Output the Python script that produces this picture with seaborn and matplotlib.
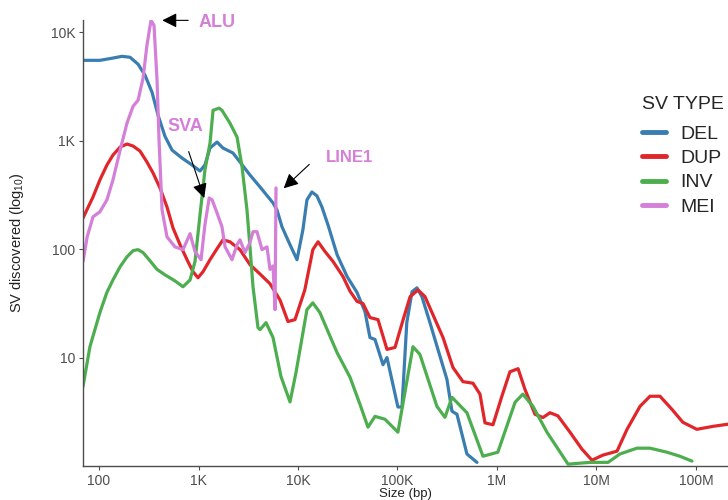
import matplotlib
matplotlib.use("Agg")
import matplotlib.pyplot as plt
import matplotlib.ticker as mticker
import numpy as np
import pandas as pd
import seaborn as sns

# ---- size distribution of discovered SVs (size in bp, count of SVs) ----
del_size = [69, 102, 135, 170, 205, 247, 290, 341, 392, 460, 542, 682, 860, 1035,
            1160, 1305, 1535, 1760, 2220, 2610, 3290, 4150, 5610, 6150, 6900, 8310,
            9770, 11200, 12300, 13800, 15500, 17400, 20000, 24700, 31100, 39100,
            47100, 52900, 59400, 71500, 78400, 101000, 111000, 124000, 140000,
            157000, 176000, 212000, 255000, 314000, 353000, 396000, 499000, 629000]
del_count = [5520, 5520, 5770, 6010, 5890, 5080, 4020, 2800, 1720, 1100, 820, 693,
             598, 526, 598, 857, 973, 857, 771, 637, 483, 375, 267, 230, 161, 110,
             80, 151, 285, 337, 310, 245, 168, 89, 56, 40, 26.6, 15.3, 14.7, 8.6,
             10, 3.5, 3.5, 21, 40.5, 44, 36.5, 21, 11.9, 6.3, 3.2, 3.0, 1.29, 1.08]

dup_size = [69, 87, 102, 120, 138, 163, 191, 220, 258, 303, 349, 410, 482, 554, 652,
            766, 880, 988, 1110, 1305, 1535, 1760, 2070, 2610, 3290, 4150, 5230,
            6590, 7930, 9330, 11700, 14100, 15900, 18700, 22500, 28300, 33300,
            39200, 45000, 52900, 63700, 78400, 94400, 114000, 134000, 161000,
            189000, 227000, 287000, 361000, 455000, 574000, 675000, 757000, 912000,
            1.12e6, 1.35e6, 1.63e6, 1.91e6, 2.41e6, 2.9e6, 3.41e6, 4.1e6, 5.42e6,
            7.15e6, 9.01e6, 1.16e7, 1.61e7, 2.03e7, 2.74e7, 3.45e7, 4.35e7, 5.74e7,
            7.39e7, 1.02e8, 1.48e8, 2.1e8, 2.6e8]
dup_count = [194, 303, 435, 597, 738, 875, 933, 894, 804, 637, 505, 367, 245, 157,
             110, 80, 62, 54.5, 62, 80, 101, 122, 117, 99, 72, 59, 48, 34, 21.5,
             22.4, 42, 99, 117, 95, 77, 56, 41, 33, 31.5, 23.4, 22.4, 11.9, 12.4,
             22.4, 36.5, 42, 36.5, 24.9, 15.3, 8.1, 6.0, 5.8, 4.6, 2.5, 2.4, 4.4,
             7.4, 7.9, 5.1, 3.0, 2.8, 3.1, 2.9, 2.05, 1.43, 1.13, 1.26, 1.37, 2.18,
             3.55, 4.4, 4.4, 3.33, 2.53, 2.18, 2.32, 2.43, 2.48]

inv_size = [69, 81, 102, 120, 138, 163, 191, 220, 247, 277, 326, 383, 460, 580, 698,
            822, 922, 1035, 1160, 1305, 1400, 1610, 1720, 2070, 2440, 2740, 3070,
            3290, 3530, 3960, 4150, 4770, 5610, 6740, 8310, 9550, 12300, 14100,
            16600, 24700, 33300, 42000, 50500, 59400, 74800, 101000, 143000,
            168000, 249000, 300000, 353000, 499000, 723000, 1.02e6, 1.52e6, 1.82e6,
            2.3e6, 3.18e6, 5.18e6, 8.6e6, 1.31e7, 1.72e7, 2.55e7, 3.45e7, 5.12e7,
            6.9e7, 9.12e7]
inv_count = [5.4, 12.6, 26, 40, 52, 69, 85, 97, 99, 93, 78, 65, 58, 51, 45, 52, 77,
             207, 537, 952, 1910, 1999, 1910, 1455, 1080, 573, 230, 105, 45, 18.9,
             18.1, 21, 15.3, 6.7, 3.9, 7.3, 27.7, 32, 26, 11.1, 6.6, 3.7, 2.28,
             2.87, 2.7, 2.05, 12.6, 10.7, 3.55, 2.81, 4.3, 3.1, 1.23, 1.34, 3.87,
             4.6, 3.55, 2.05, 1.04, 1.08, 1.08, 1.29, 1.46, 1.46, 1.34, 1.23, 1.11]

mei_size = [69, 76, 87, 102, 120, 138, 163, 191, 220, 247, 277, 303, 333, 357, 383,
            401, 430, 482, 580, 698, 822, 922, 1060, 1160, 1280, 1370, 1535, 1720,
            1850, 2170, 2440, 2610, 2930, 3290, 3530, 3870, 4350, 4880, 5230, 5610,
            5880, 6010]
mei_count = [77, 130, 199, 221, 285, 435, 820, 1455, 2080, 2370, 3770, 7590, 12900,
             11600, 3610, 1010, 230, 130, 105, 99, 139, 95, 80, 168, 297, 285, 216,
             161, 105, 80, 110, 122, 93, 115, 145, 145, 99, 105, 65, 70, 27.7, 367]

sv_types = ["DEL", "DUP", "INV", "MEI"]
sv_colors = ["#3A7DB0", "#E0262B", "#4DAE4F", "#D47FD8"]

frames = []
for name, xs, ys in zip(sv_types,
                        [del_size, dup_size, inv_size, mei_size],
                        [del_count, dup_count, inv_count, mei_count]):
    frames.append(pd.DataFrame({"size": xs, "count": ys, "SV TYPE": name}))
df = pd.concat(frames, ignore_index=True)

sns.set_theme(style="ticks")
plt.rcParams["font.family"] = ["Liberation Sans", "DejaVu Sans"]
plt.rcParams["mathtext.fontset"] = "custom"
plt.rcParams["mathtext.rm"] = "Liberation Sans"
plt.rcParams["mathtext.it"] = "Liberation Sans"

fig = plt.figure(figsize=(7.28, 5.0), dpi=100)
ax = fig.add_axes([83 / 728, 34 / 500, 645 / 728, 446 / 500])

sns.lineplot(data=df, x="size", y="count", hue="SV TYPE", hue_order=sv_types,
             palette=dict(zip(sv_types, sv_colors)), sort=False, estimator=None,
             linewidth=2.3, ax=ax, legend=True)

ax.set_xscale("log")
ax.set_yscale("log")
ax.set_xlim(69, 2.1e8)
ax.set_ylim(1.0, 13000)


def size_fmt(v, pos):
    labels = {1e1: "10", 1e2: "100", 1e3: "1K", 1e4: "10K", 1e5: "100K",
              1e6: "1M", 1e7: "10M", 1e8: "100M"}
    for k, s in labels.items():
        if abs(v - k) / k < 1e-6:
            return s
    return ""


ax.xaxis.set_major_locator(mticker.FixedLocator([1e2, 1e3, 1e4, 1e5, 1e6, 1e7, 1e8]))
ax.yaxis.set_major_locator(mticker.FixedLocator([1e1, 1e2, 1e3, 1e4]))
ax.xaxis.set_minor_locator(mticker.NullLocator())
ax.yaxis.set_minor_locator(mticker.NullLocator())
ax.xaxis.set_major_formatter(mticker.FuncFormatter(size_fmt))
ax.yaxis.set_major_formatter(mticker.FuncFormatter(size_fmt))
ax.tick_params(axis="both", labelsize=10, colors="#4D4D4D", length=3, width=0.8,
               pad=2.5)
for t in ax.get_xticklabels() + ax.get_yticklabels():
    t.set_color("#4D4D4D")

for side in ["top", "right"]:
    ax.spines[side].set_visible(False)
for side in ["left", "bottom"]:
    ax.spines[side].set_color("#4D4D4D")
    ax.spines[side].set_linewidth(1.0)

ax.set_xlabel("Size (bp)", fontsize=9.5, color="#222222", labelpad=0)
ax.set_ylabel("SV discovered (log$_{10}$)", fontsize=10.5, color="#222222",
              labelpad=18)

# annotations of the mobile element peaks
mei_color = sv_colors[3]
arrow_kw = dict(arrowstyle="-|>", color="black", lw=0.8, mutation_scale=22)
ax.annotate("", xy=(405, 12900), xytext=(840, 12900), arrowprops=arrow_kw,
            annotation_clip=False)
ax.text(1010, 12400, "ALU", color=mei_color, fontsize=13, fontweight="bold",
        va="center", ha="left")
ax.annotate("", xy=(1165, 280), xytext=(780, 840), arrowprops=arrow_kw)
ax.text(745, 1365, "SVA", color=mei_color, fontsize=13, fontweight="bold",
        va="center", ha="center")
ax.annotate("", xy=(6850, 350), xytext=(13600, 630), arrowprops=arrow_kw)
ax.text(33000, 700, "LINE1", color=mei_color, fontsize=12, fontweight="bold",
        va="center", ha="center")

leg = ax.legend(title="SV TYPE", frameon=False, loc="upper left",
                bbox_to_anchor=(634 / 728, 1 - 88 / 500),
                bbox_transform=fig.transFigure, fontsize=14, title_fontsize=14,
                handlelength=1.25, handletextpad=0.75, labelspacing=0.34,
                borderaxespad=0)
for line in leg.get_lines():
    line.set_linewidth(3.5)
leg._legend_box.align = "left"
leg._legend_box.sep = 9

fig.savefig("out.png", dpi=100)
